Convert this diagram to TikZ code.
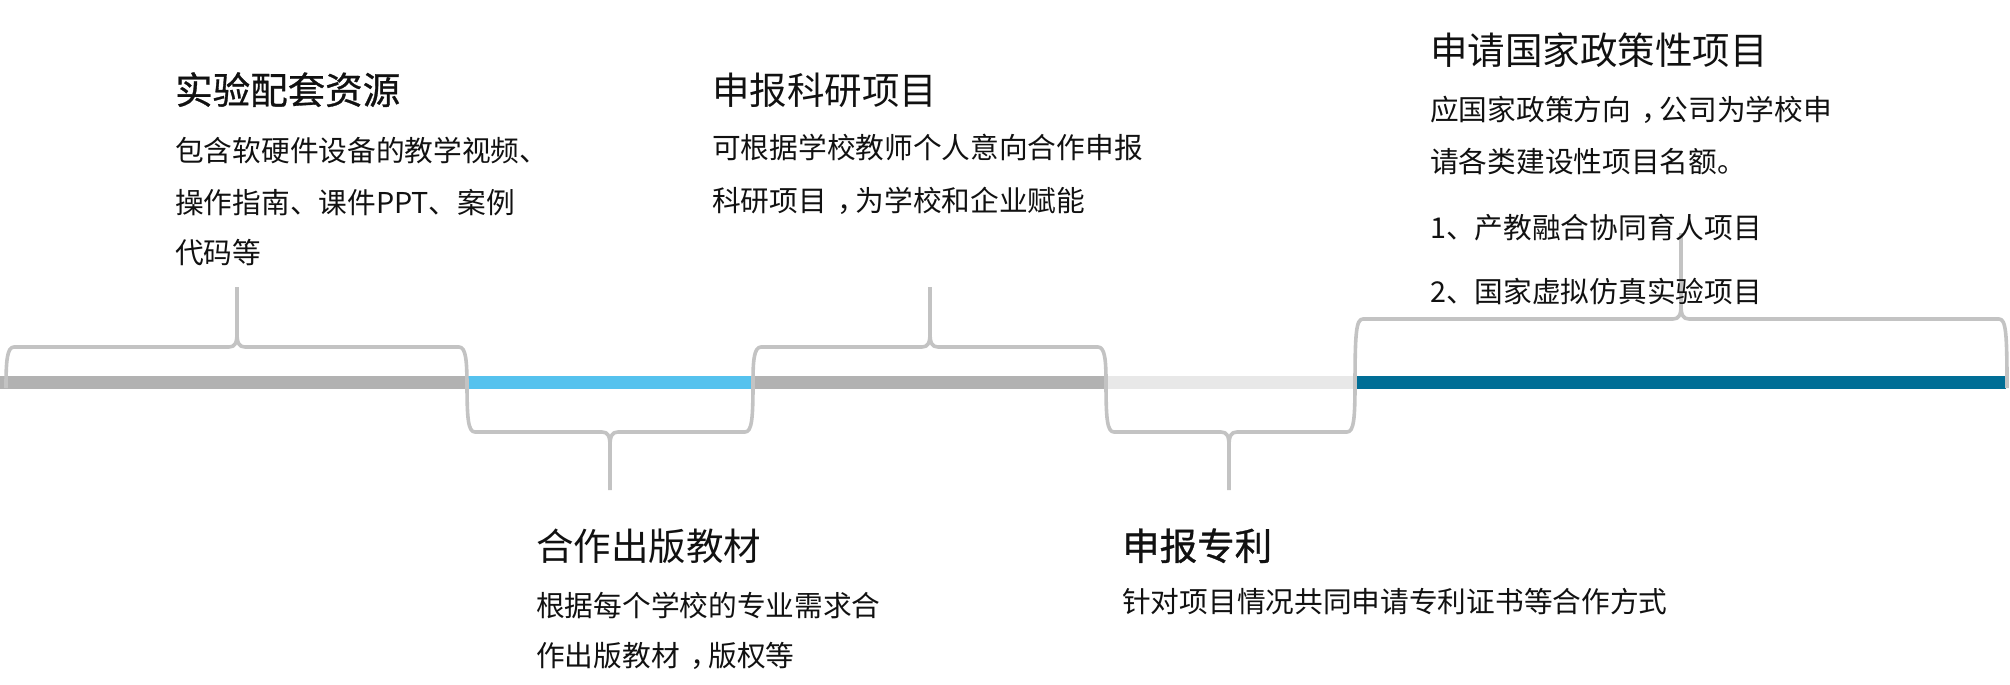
\documentclass[tikz,border=0pt]{standalone}
\usepackage{fontspec}
\setmainfont{Noto Sans CJK SC}
\newfontfamily\boldish{Noto Sans CJK SC}[FakeBold=0.8]
\newcommand{\cma}{\makebox[1em][l]{\hspace{0.36em}，}}
\definecolor{bargray}{HTML}{B2B2B2}
\definecolor{barblue}{HTML}{55C2EE}
\definecolor{barlight}{HTML}{E8E8E8}
\definecolor{barteal}{HTML}{006E96}
\definecolor{bracegray}{HTML}{C3C3C3}
\definecolor{txt}{HTML}{111111}
\tikzset{
  ttl/.style={anchor=base west, inner sep=0pt, text=txt, font=\fontsize{37.5pt}{40pt}\selectfont},
  ttlb/.style={ttl, font=\boldish\fontsize{37.5pt}{40pt}\selectfont},
  bdy/.style={anchor=base west, inner sep=0pt, text=txt, font=\fontsize{28.7pt}{32pt}\selectfont},
  bracestyle/.style={draw=bracegray, line width=3.6pt, line join=round, line cap=butt},
}
% top brace: #1 xa, #2 xb, #3 yb, #4 yh, #5 xt, #6 ytip
\newcommand{\topbrace}[6]{%
  \draw[bracestyle] (#1,#3) .. controls (#1,#4+14) and (#1+1,#4) .. (#1+8,#4)
    -- (#5-8,#4) .. controls (#5-2,#4) and (#5,#4-4) .. (#5,#4-14)
    -- (#5,#6)
    (#5,#4-14) .. controls (#5,#4-4) and (#5+2,#4) .. (#5+8,#4)
    -- (#2-8,#4) .. controls (#2-1,#4) and (#2,#4+14) .. (#2,#3);}
\newcommand{\botbrace}[6]{%
  \draw[bracestyle] (#1,#3) .. controls (#1,#4-14) and (#1+1,#4) .. (#1+8,#4)
    -- (#5-8,#4) .. controls (#5-2,#4) and (#5,#4+4) .. (#5,#4+14)
    -- (#5,#6)
    (#5,#4+14) .. controls (#5,#4+4) and (#5+2,#4) .. (#5+8,#4)
    -- (#2-8,#4) .. controls (#2-1,#4) and (#2,#4-14) .. (#2,#3);}
\begin{document}
\begin{tikzpicture}[x=1pt, y=-1pt]
\useasboundingbox (0,0) rectangle (2010,685);
% bar segments
\fill[bargray] (0,376) rectangle (467,389);
\fill[barblue] (467,376) rectangle (753,389);
\fill[bargray] (753,376) rectangle (1106,389);
\fill[barlight] (1106,376) rectangle (1355,389);
\fill[barteal] (1355,376) rectangle (2006,389);
% braces
\topbrace{6}{467}{388}{347}{237}{287}
\botbrace{467}{753}{382}{432}{610}{490}
\topbrace{753}{1106}{382}{347}{930}{287}
\botbrace{1106}{1355}{382}{432}{1229}{490}
\topbrace{1355}{2007}{388}{319}{1681}{233}
% block 1
\node[ttlb] (t1) at (175,104) {实验配套资源};
\node[bdy] (b1a) at (175,161) {包含软硬件设备的教学视频、};
\node[bdy] (b1b) at (175,213) {操作指南、课件PPT、案例};
\node[bdy] (b1c) at (175,263) {代码等};
% block 2
\node[ttl] (t2) at (536,560) {合作出版教材};
\node[bdy] (b2a) at (536,616) {根据每个学校的专业需求合};
\node[bdy] (b2b) at (536,666) {作出版教材\cma 版权等};
% block 3
\node[ttl] (t3) at (712,104) {申报科研项目};
\node[bdy] (b3a) at (712,158.5) {可根据学校教师个人意向合作申报};
\node[bdy] (b3b) at (712,211) {科研项目\cma 为学校和企业赋能};
% block 4
\node[ttlb] (t4) at (1122,560) {申报专利};
\node[bdy] (b4a) at (1122,612) {针对项目情况共同申请专利证书等合作方式};
% block 5
\node[ttl] (t5) at (1430,65) {申请国家政策性项目};
\node[bdy] (b5a) at (1430,120) {应国家政策方向\cma 公司为学校申};
\node[bdy] (b5b) at (1430,172) {请各类建设性项目名额。};
\node[bdy] (b5c) at (1430,238) {1、产教融合协同育人项目};
\node[bdy] (b5d) at (1430,302) {2、国家虚拟仿真实验项目};
\end{tikzpicture}
\end{document}
